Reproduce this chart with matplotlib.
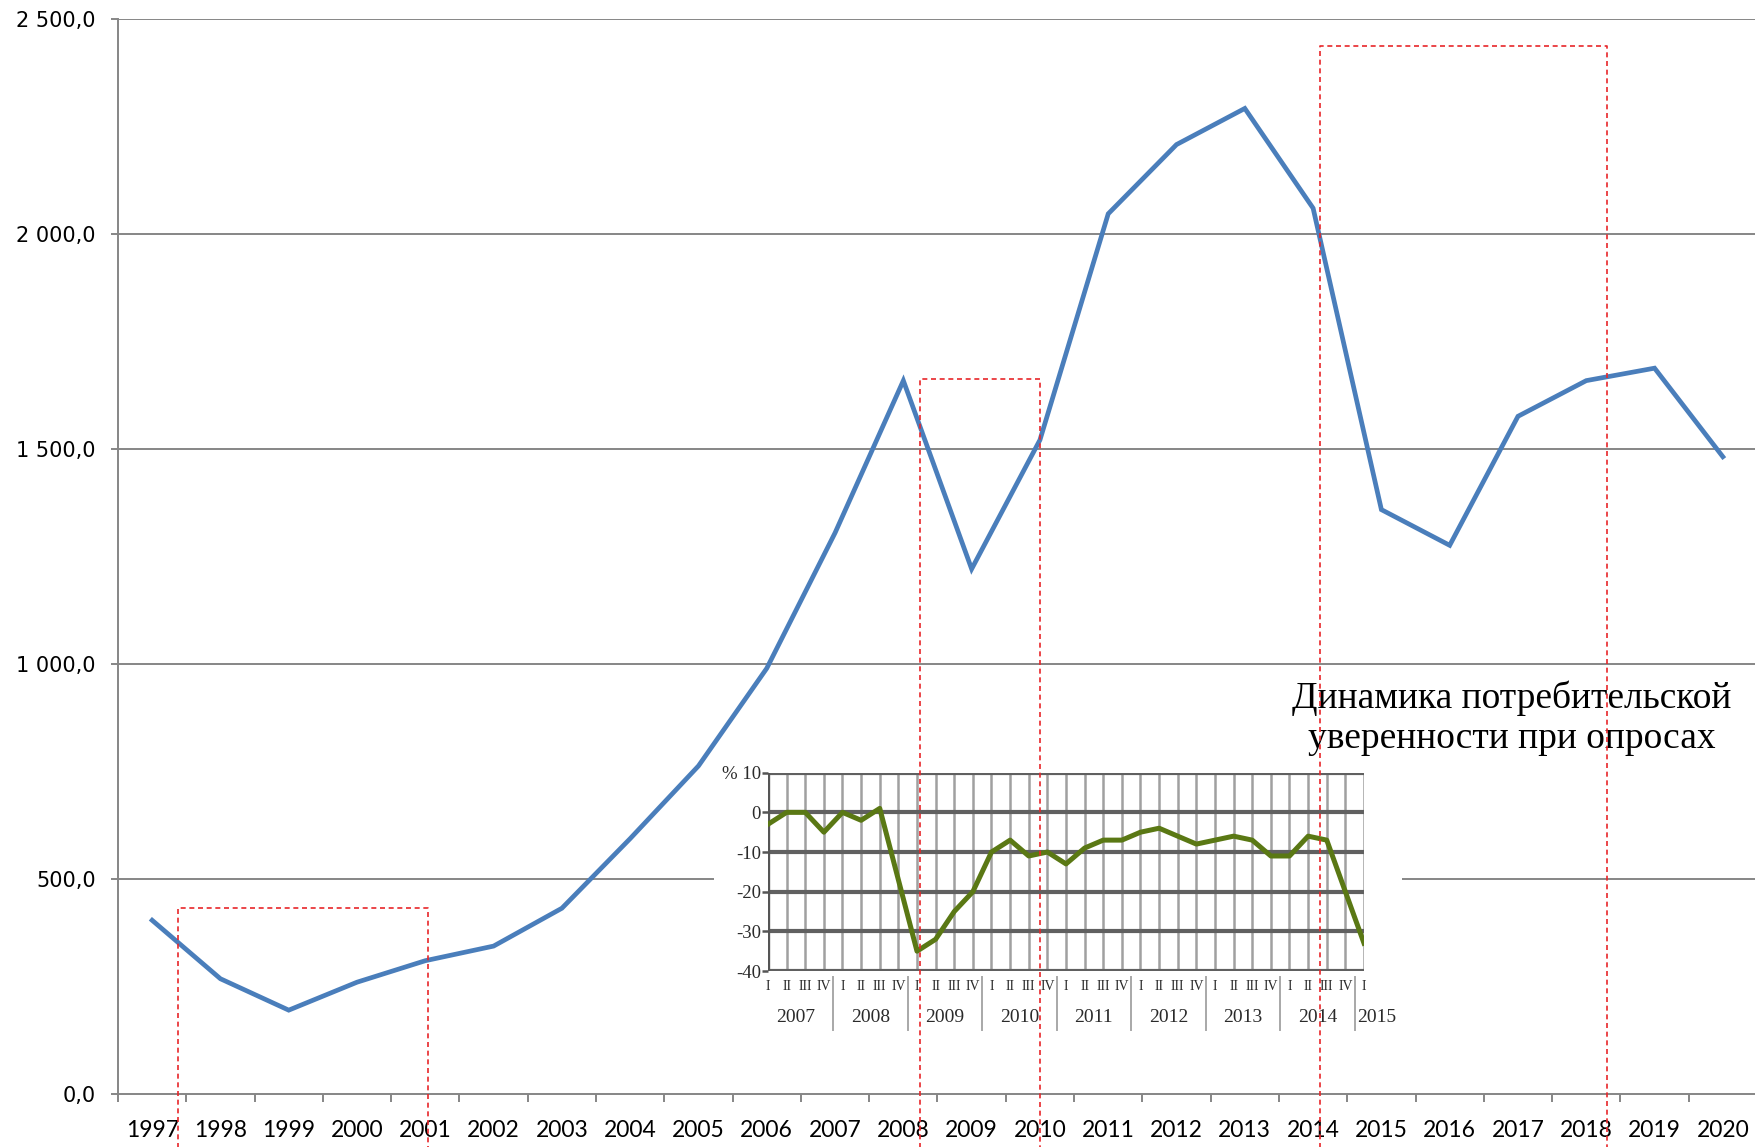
import matplotlib
matplotlib.use("Agg")
import matplotlib.pyplot as plt
from matplotlib.lines import Line2D
from matplotlib.patches import Rectangle
import matplotlib.transforms as mtransforms

# ---------------- data ----------------
years = [str(y) for y in range(1997, 2021)]
values = [404, 268, 195, 260, 310, 344, 432, 594, 763, 990, 1305, 1659,
          1221, 1521, 2047, 2208, 2292, 2060, 1359, 1276, 1576, 1659, 1688, 1482]
y_ticks = [0, 500, 1000, 1500, 2000, 2500]

inset_years = ["2007", "2008", "2009", "2010", "2011", "2012", "2013", "2014", "2015"]
inset_quarters = ["I", "II", "III", "IV"]
inset_values = [-3, 0, 0, -5, 0, -2, 1, -17,
                -35, -32, -25, -20, -10, -7, -11, -10,
                -13, -9, -7, -7, -5, -4, -6, -8,
                -7, -6, -7, -11, -11, -6, -7, -20,
                -33]
inset_yticks = [-40, -30, -20, -10, 0, 10]
inset_title = "Динамика потребительской\nуверенности при опросах"

# highlight boxes: (x_left, x_right, y_top) in main-axes data coords
boxes = [(0.38, 4.04, 432), (11.24, 13.0, 1663), (17.1, 21.3, 2437)]

# ---------------- figure ----------------
W, H = 1756, 1147
fig = plt.figure(figsize=(W / 100, H / 100), dpi=100)
fig.patch.set_facecolor("white")

def fx(px):
    return px / W

def fy(py):
    return 1 - py / H

ax = fig.add_axes([fx(118), fy(1094), fx(1757) - fx(118), fy(19) - fy(1094)])
ax.set_zorder(0)
x = list(range(len(years)))
ax.plot(x, values, color="#4a7ebb", lw=3.4, solid_joinstyle="miter", zorder=3)
ax.set_xlim(-0.5, len(years) - 0.5)
ax.set_ylim(0, 2500)

grid_c = "#868686"
ax.set_yticks(y_ticks)
ax.set_yticklabels([f"{v:,.1f}".replace(",", " ").replace(".", ",") for v in y_ticks],
                   fontsize=15, family=["DejaVu Sans"])
for v in y_ticks[1:]:
    ax.axhline(v, color=grid_c, lw=1.4, zorder=1)
ax.tick_params(axis="y", length=5, width=1.4, color=grid_c, pad=11)

ax.set_xticks(x)
ax.set_xticklabels(years, fontsize=16.5, family=["Lato", "DejaVu Sans"])
ax.set_xticks([i - 0.5 for i in range(len(years) + 1)], minor=True)
ax.tick_params(axis="x", which="major", length=0, pad=19)
ax.tick_params(axis="x", which="minor", length=6, width=1.4, color=grid_c)

for s in ["top", "right"]:
    ax.spines[s].set_visible(False)
for s in ["left", "bottom"]:
    ax.spines[s].set_color(grid_c)
    ax.spines[s].set_linewidth(1.4)

# white backdrop for the inset image
fig.add_artist(Rectangle((fx(714), fy(1040)), fx(1402) - fx(714), fy(758) - fy(1040),
                         transform=fig.transFigure, facecolor="white",
                         edgecolor="none", zorder=1))

# ---------------- inset ----------------
ia = fig.add_axes([fx(768), fy(971), fx(1364) - fx(768), fy(772.7) - fy(971)])
ia.set_zorder(2)
ia.patch.set_alpha(0)
n = len(inset_values)
xi = list(range(n))
ia.set_xlim(0, n - 1)
ia.set_ylim(-40, 10)
for k in xi:
    ia.axvline(k, color="#a0a0a0", lw=1.8, zorder=1)
for v in inset_yticks:
    ia.axhline(v, color="#606060", lw=3.0, zorder=2)
ia.plot(xi, inset_values, color="#5a7814", lw=3.6, zorder=4)

serif = ["Liberation Serif", "DejaVu Serif"]
txt_c = "#2a2a2a"
ia.set_yticks(inset_yticks)
ia.set_yticklabels([("% " + str(v)) if v == 10 else str(v) for v in inset_yticks],
                   fontsize=13.5, family=serif, color=txt_c)
ia.tick_params(axis="y", length=4, width=1.8, color="#555555", pad=1)
ia.set_xticks([])
for s in ia.spines.values():
    s.set_visible(False)
ia.axvline(0, color="#555555", lw=2.4, zorder=3)

trans = mtransforms.blended_transform_factory(ia.transData, ia.transAxes)
for k in xi:
    ia.text(k, -0.08, inset_quarters[k % 4], transform=trans, ha="center", va="center",
            fontsize=10, family=serif, color=txt_c)
for i, yr in enumerate(inset_years):
    xc = 4 * i + 1.5 if i < len(inset_years) - 1 else 4 * i + 0.7
    ia.text(xc, -0.235, yr, transform=trans, ha="center", va="center",
            fontsize=14, family=serif, color=txt_c)
for i in range(len(inset_years) - 1):
    ia.plot([4 * i + 3.5] * 2, [-0.03, -0.3], transform=trans, color="#a8a8a8",
            lw=1.4, clip_on=False)

fig.text(fx(1512), fy(718), inset_title, ha="center", va="center", multialignment="center",
         fontsize=27, family=serif, color="black", linespacing=1.2)

# ---------------- red dashed boxes ----------------
for (x0, x1, yt) in boxes:
    fig.add_artist(Line2D([x0, x0, x1, x1], [-400, yt, yt, -400], transform=ax.transData,
                          color="#e8262a", lw=1.2, dashes=(3, 2.2), zorder=5))

fig.savefig("out.png", dpi=100, facecolor="white")
